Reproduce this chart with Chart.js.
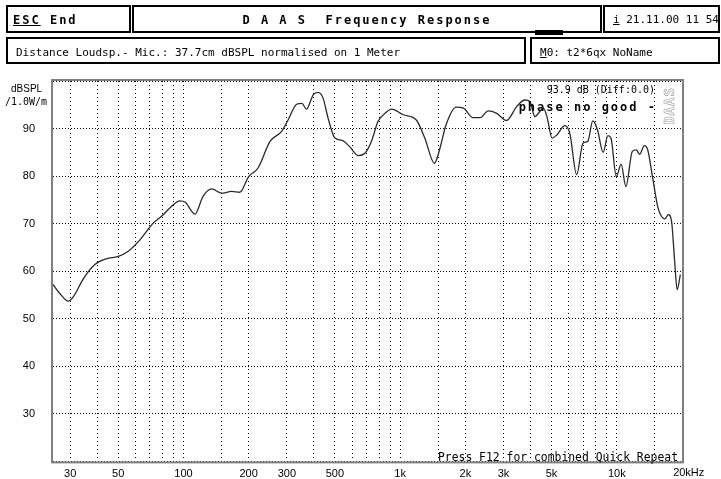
<!DOCTYPE html>
<html><head><meta charset="utf-8">
<script src="https://cdn.jsdelivr.net/npm/chart.js@4.4.1/dist/chart.umd.min.js"></script>
<style>
html,body{margin:0;padding:0;background:#fff;overflow:hidden;}
#wrap{position:relative;width:721px;height:479px;overflow:hidden;background:#fff;}
#c{position:absolute;left:0;top:0;}
.box{position:absolute;border:2px solid #000;box-sizing:border-box;background:#fff;}
.t{position:absolute;white-space:pre;color:#000;line-height:1;}
.hb{font:bold 12px "DejaVu Sans Mono",monospace;letter-spacing:2px;}
.hn{font:11px "DejaVu Sans Mono",monospace;}
</style></head><body>
<div id="wrap">
<canvas id="c" width="721" height="486"></canvas>
<div class="box" style="left:6px;top:5px;width:125px;height:28px;"></div>
<div class="box" style="left:132px;top:5px;width:470px;height:28px;"></div>
<div class="box" style="left:603px;top:5px;width:117px;height:28px;"></div>
<div class="box" style="left:6px;top:37px;width:520px;height:27px;"></div>
<div class="box" style="left:530px;top:37px;width:190px;height:27px;"></div>
<div style="position:absolute;left:535px;top:30px;width:28px;height:5px;background:#000;"></div>
<div class="t hb" style="left:13px;top:13px;"><u>ESC</u> End</div>
<div class="t hb" style="left:132px;top:13px;width:470px;text-align:center;">D A A S  Frequency Response</div>
<div class="t hn" style="left:613px;top:13px;"><u>i</u> 21.11.00 11 54</div>
<div class="t hn" style="left:16px;top:46px;">Distance Loudsp.- Mic.: 37.7cm dBSPL normalised on 1 Meter</div>
<div class="t hn" style="left:540px;top:46px;"><u>M</u>0: t2*6qx NoName</div>
<div class="t" style="left:11px;top:83px;font:10px 'Liberation Sans',sans-serif;">dBSPL</div>
<div class="t" style="left:5px;top:96px;font:10px 'DejaVu Sans Mono',monospace;">/1.0W/m</div>
<div class="t" style="right:66px;top:84px;font:10px 'DejaVu Sans Mono',monospace;">93.9 dB (Diff:0.0)</div>
<div class="t hb" style="right:64px;top:100px;">phase no good -</div>
<div class="t" style="left:645px;top:98px;width:47px;text-align:center;transform:rotate(-90deg);font:bold 14px 'DejaVu Sans Mono',monospace;letter-spacing:1px;color:transparent;-webkit-text-stroke:0.6px #999;">DAAS</div>
<div class="t" style="right:43px;top:450px;font:11.4px 'DejaVu Sans Mono',monospace;">Press F12 for combined Quick Repeat</div>
</div>
<script>
// Frequency response curve (Hz, dBSPL)
const freqHz = [25,27,29.4,31,34.5,39,44,50,55.6,63,72.5,79,88,96,102,113,123,135,150,167,182,200,221,251,284,304,333,352,370,397,418,441,465,500,540,585,642,688,740,790,852,913,1035,1188,1300,1440,1520,1630,1815,1960,2170,2340,2550,2790,3100,3450,3765,3975,4190,4430,4580,4760,5030,5300,5750,6070,6530,6980,7350,7750,8150,8650,9100,9400,9950,10470,11020,11800,12300,12750,13400,13900,14650,15500,16100,16700,17300,17900,18500,19000,19650];
const levelDb = [57.2,55.2,53.7,54.6,58.4,61.4,62.6,63.1,64.2,66.6,70.1,71.5,73.6,74.8,74.5,72.0,75.7,77.3,76.4,76.8,76.6,79.9,81.7,87.3,89.4,91.8,95.1,95.3,94.1,97.1,97.6,96.4,92.2,88.0,87.5,86.2,84.3,84.8,87.5,91.5,93.2,94.1,92.9,91.8,88.0,82.7,85.5,90.8,94.5,94.3,92.3,92.3,93.7,93.2,91.7,94.6,96.0,95.7,92.5,93.7,94.3,92.5,88.0,88.7,90.6,89.0,80.3,86.9,87.3,91.6,89.7,85.0,88.5,88.0,79.9,82.5,77.8,85.2,85.5,84.6,86.4,85.5,79.6,73.3,71.5,71.0,71.9,70.5,62.1,56.1,59.3];
// Axis ticks
const gridFreqs = [30,40,50,60,70,80,90,100,150,200,300,400,500,600,700,800,900,1000,1500,2000,3000,4000,5000,6000,7000,8000,9000,10000,15000,20000];
const labelFreqs = [30,50,100,200,300,500,1000,2000,3000,5000,10000];
const labelTexts = ['30','50','100','200','300','500','1k','2k','3k','5k','10k'];
const lastFreq = 20000;
const lastLabel = '20kHz';
const levelLabels = [30,40,50,60,70,80,90];

const tickFont = {family:"'Liberation Sans', Arial, sans-serif", size:11};

const framePlugin = {
  id:'frame',
  afterDraw(chart){
    const {ctx, chartArea:a, scales} = chart;
    ctx.save();
    ctx.strokeStyle = '#808080';
    ctx.lineWidth = 2;
    ctx.strokeRect(a.left-1, a.top-1, a.right-a.left+2, a.bottom-a.top+2);
    ctx.font = "11px 'Liberation Sans', Arial, sans-serif";
    ctx.fillStyle = '#000';
    ctx.textBaseline = 'top';
    ctx.textAlign = 'left';
    const px = scales.x.getPixelForValue(lastFreq);
    const w = ctx.measureText(lastLabel.replace('Hz','')).width;
    ctx.fillText(lastLabel, px - w/2, scales.x.top + 6);
    ctx.restore();
  }
};

new Chart(document.getElementById('c'), {
  type:'line',
  data:{datasets:[{
    data: freqHz.map((f,i)=>({x:f, y:levelDb[i]})),
    borderColor:'#2a2a2a',
    borderWidth:1.3,
    pointRadius:0,
    cubicInterpolationMode:'monotone',
    fill:false
  }]},
  options:{
    responsive:false,
    animation:false,
    events:[],
    layout:{padding:{left:0,top:81,right:39,bottom:0}},
    plugins:{legend:{display:false},tooltip:{enabled:false},title:{display:false}},
    scales:{
      x:{
        type:'logarithmic', min:25, max:20000,
        afterBuildTicks:(s)=>{ s.ticks = gridFreqs.map(v=>({value:v})); },
        afterFit:(s)=>{ s.height = 17; },
        grid:{color:'#000', lineWidth:1, drawTicks:false},
        border:{display:false, dash:[1,3]},
        ticks:{autoSkip:false, maxRotation:0, minRotation:0, padding:6, color:'#000', font:tickFont,
          callback:(v)=>{ const i = labelFreqs.indexOf(v); return i>=0 ? labelTexts[i] : ''; }}
      },
      y:{
        type:'linear', min:20, max:100,
        afterBuildTicks:(s)=>{ s.ticks = [20,30,40,50,60,70,80,90,100].map(v=>({value:v})); },
        afterFit:(s)=>{ s.width = 53; },
        grid:{color:'#000', lineWidth:1, drawTicks:false},
        border:{display:false, dash:[1,2]},
        ticks:{padding:18, color:'#000', font:tickFont,
          callback:(v)=> levelLabels.includes(v) ? String(v) : ''}
      }
    }
  },
  plugins:[framePlugin]
});
</script>
</body></html>
